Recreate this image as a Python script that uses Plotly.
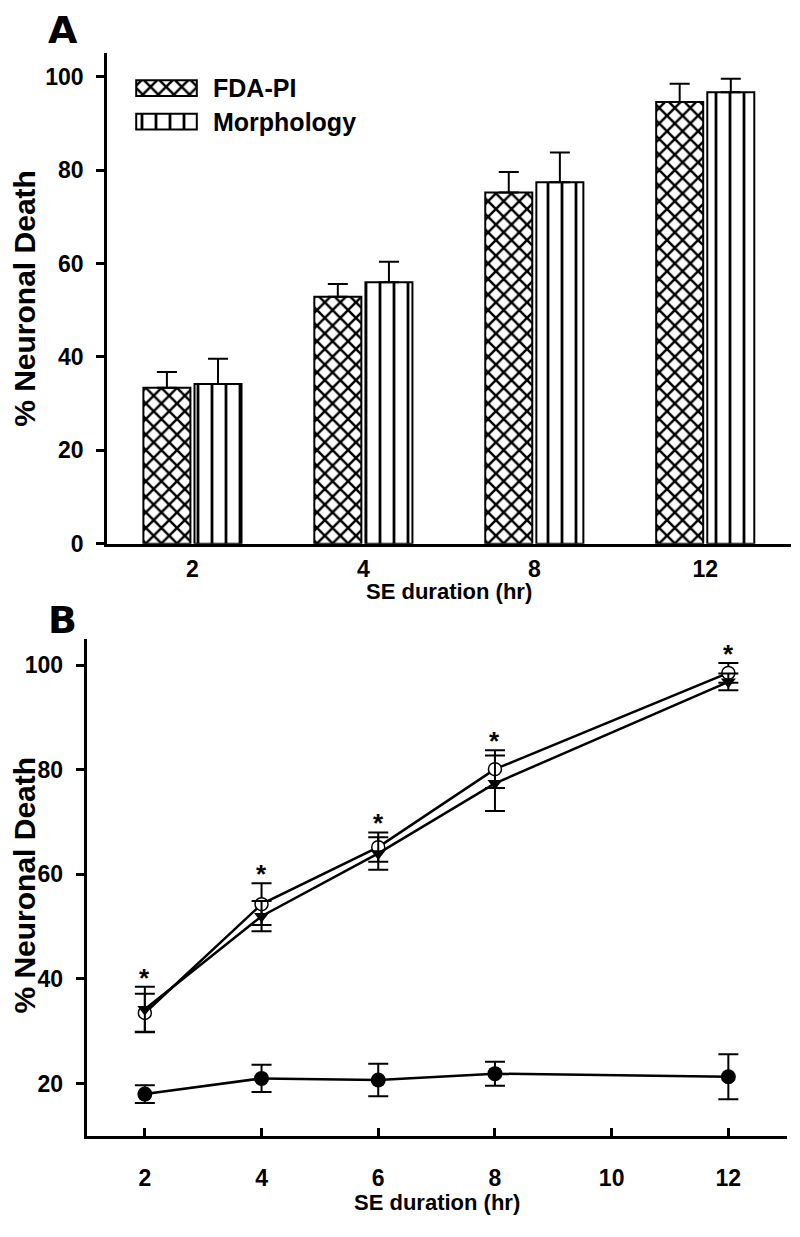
import plotly.graph_objects as go

# ---------------- Panel A data ----------------
categories_a = ["2", "4", "8", "12"]
fda_pi = [33.4, 52.9, 75.2, 94.6]
fda_pi_err = [3.4, 2.7, 4.4, 3.9]
morphology = [34.2, 56.0, 77.4, 96.7]
morphology_err = [5.4, 4.4, 6.4, 2.9]

# ---------------- Panel B data ----------------
hours_b = [2, 4, 6, 8, 12]
open_circle = [33.5, 54.3, 65.2, 80.1, 98.5]
open_circle_err = [3.7, 4.0, 2.8, 3.6, 1.9]
triangle = [34.2, 52.0, 64.0, 77.4, 96.8]
triangle_err = [4.3, 2.9, 3.1, 5.3, 1.6]
filled_circle = [18.0, 21.0, 20.7, 21.9, 21.3]
filled_circle_err = [1.7, 2.6, 3.1, 2.3, 4.3]

legend_labels = ["FDA-PI", "Morphology"]

W, H = 800, 1237
FONT = "Liberation Sans, Arial, sans-serif"


def px_x(p):
    return p / W


def px_y(p):
    return 1 - p / H


X_PATTERN = dict(shape="x", size=11, solidity=0.4, fgcolor="black", bgcolor="white", fgopacity=1)
V_PATTERN = dict(shape="|", size=14, solidity=0.2, fgcolor="black", bgcolor="white", fgopacity=1)

fig = go.Figure()

fig.add_trace(go.Bar(
    x=categories_a, y=fda_pi, offset=-0.287, width=0.275,
    marker=dict(color="white", line=dict(color="black", width=2), pattern=X_PATTERN),
    error_y=dict(type="data", array=fda_pi_err, arrayminus=[0] * len(fda_pi), symmetric=False,
                 color="black", thickness=2, width=10),
    xaxis="x", yaxis="y", showlegend=False,
))
fig.add_trace(go.Bar(
    x=categories_a, y=morphology, offset=0.012, width=0.275,
    marker=dict(color="white", line=dict(color="black", width=2), pattern=V_PATTERN),
    error_y=dict(type="data", array=morphology_err, arrayminus=[0] * len(morphology), symmetric=False,
                 color="black", thickness=2, width=10),
    xaxis="x", yaxis="y", showlegend=False,
))

# custom legend swatches (on a hidden small axis)
for i, pat in enumerate([X_PATTERN, V_PATTERN]):
    fig.add_trace(go.Bar(
        x=[1], y=[i], orientation="h", width=0.47,
        marker=dict(color="white", line=dict(color="black", width=2), pattern=pat),
        xaxis="x3", yaxis="y3", showlegend=False, hoverinfo="skip",
    ))

# Panel B lines
eb = dict(type="data", color="black", thickness=2, width=10)
fig.add_trace(go.Scatter(
    x=hours_b, y=filled_circle, mode="lines+markers",
    line=dict(color="black", width=2.5),
    marker=dict(symbol="circle", size=15, color="black"),
    error_y=dict(array=filled_circle_err, **eb),
    xaxis="x2", yaxis="y2", showlegend=False,
))
fig.add_trace(go.Scatter(
    x=hours_b, y=open_circle, mode="lines+markers",
    line=dict(color="black", width=2.5),
    marker=dict(symbol="circle", size=13, color="white", line=dict(color="black", width=1.5)),
    error_y=dict(array=open_circle_err, **eb),
    xaxis="x2", yaxis="y2", showlegend=False,
))
fig.add_trace(go.Scatter(
    x=hours_b, y=triangle, mode="lines+markers",
    line=dict(color="black", width=2.5),
    marker=dict(symbol="triangle-down", size=13, color="black"),
    error_y=dict(array=triangle_err, **eb),
    xaxis="x2", yaxis="y2", showlegend=False,
))

tickfont = dict(family=FONT, size=23, color="black", weight="bold")
axis_common = dict(showline=True, linecolor="black", linewidth=2.5, showgrid=False,
                   zeroline=False, tickfont=tickfont, tickcolor="black")

annotations = []
# significance asterisks above highest error bar
for h, c, ce, t, te in zip(hours_b, open_circle, open_circle_err, triangle, triangle_err):
    top = max(c + ce, t + te)
    annotations.append(dict(x=h, y=top, xref="x2", yref="y2", text="*", showarrow=False,
                            yanchor="bottom", yshift=-8,
                            font=dict(family=FONT, size=26, color="black", weight="bold")))

# legend labels
for i, lab in enumerate(legend_labels):
    annotations.append(dict(x=px_x(211), y=px_y(89 + 34 * i), xref="paper", yref="paper",
                            text=lab, showarrow=False, xanchor="left", yanchor="middle",
                            font=dict(family=FONT, size=25, color="black", weight="bold")))

# panel letters
for lab, yy in [("A", 30), ("B", 627)]:
    annotations.append(dict(x=px_x(46), y=px_y(yy), xref="paper", yref="paper", text=lab,
                            showarrow=False, xanchor="left", yanchor="middle",
                            font=dict(family="DejaVu Sans, sans-serif", size=38, color="black",
                                      weight="bold")))

# axis titles
xt_font = dict(family=FONT, size=22, color="black", weight="bold")
yt_font = dict(family=FONT, size=30, color="black", weight="bold")
annotations += [
    dict(x=px_x(25), y=px_y(302), xref="paper", yref="paper", text="% Neuronal Death",
         textangle=-90, showarrow=False, xanchor="center", yanchor="middle", font=yt_font),
    dict(x=px_x(449), y=px_y(598), xref="paper", yref="paper", text="SE duration (hr)",
         showarrow=False, xanchor="center", yanchor="middle", font=xt_font),
    dict(x=px_x(25), y=px_y(895), xref="paper", yref="paper", text="% Neuronal Death",
         textangle=-90, showarrow=False, xanchor="center", yanchor="middle", font=yt_font),
    dict(x=px_x(437), y=px_y(1215), xref="paper", yref="paper", text="SE duration (hr)",
         showarrow=False, xanchor="center", yanchor="middle", font=xt_font),
]

fig.update_layout(
    width=W, height=H,
    margin=dict(l=0, r=0, t=0, b=0),
    paper_bgcolor="white", plot_bgcolor="white",
    barmode="overlay",
    xaxis=dict(domain=[px_x(107), px_x(790.7)], type="category", range=[-0.5, 3.5],
               ticks="", anchor="y", ticklabelstandoff=3, **axis_common),
    yaxis=dict(domain=[px_y(549.5), px_y(54)], range=[0, 105], tickvals=[0, 20, 40, 60, 80, 100],
               ticks="outside", ticklen=8, tickwidth=2.5, anchor="x", ticklabelstandoff=8,
               **axis_common),
    xaxis2=dict(domain=[px_x(86.5), px_x(786.7)], range=[1, 13], tickvals=[2, 4, 6, 8, 10, 12],
                ticks="inside", ticklen=8, tickwidth=2.5, anchor="y2", ticklabelstandoff=20,
                **axis_common),
    yaxis2=dict(domain=[px_y(1148), px_y(645.7)], range=[10, 105], tickvals=[20, 40, 60, 80, 100],
                ticks="outside", ticklen=8, tickwidth=2.5, anchor="x2", ticklabelstandoff=8,
                **axis_common),
    xaxis3=dict(domain=[px_x(135), px_x(198)], range=[-0.02, 1.02], visible=False, anchor="y3"),
    yaxis3=dict(domain=[px_y(140), px_y(72)], range=[1.5, -0.5], visible=False, anchor="x3"),
    annotations=annotations,
)

# remove the default page margin so the 800x1237 figure fills the window exactly
fig.write_html(
    "out.html",
    config={"displayModeBar": False},
    post_script="document.body.style.margin='0';document.body.style.overflow='hidden';",
)
